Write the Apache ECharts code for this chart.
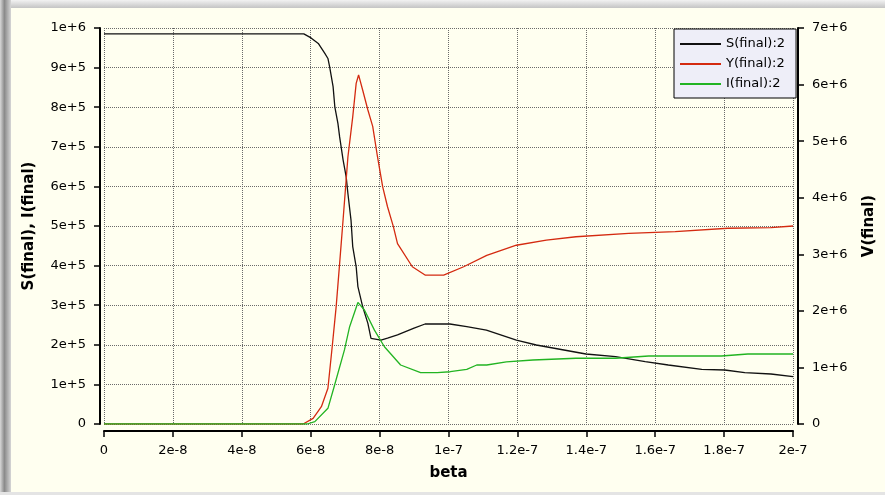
<!DOCTYPE html>
<html><head><meta charset="utf-8">
<script src="https://cdn.jsdelivr.net/npm/echarts@6/dist/echarts.min.js"></script>
<style>html,body{margin:0;padding:0;background:#fffff0}#c{width:885px;height:495px}</style>
</head><body><div id="c"></div><script>
// tick labels
const xTickLabels = ['0','2e-8','4e-8','6e-8','8e-8','1e-7','1.2e-7','1.4e-7','1.6e-7','1.8e-7','2e-7'];
const leftTickLabels = ['0','1e+5','2e+5','3e+5','4e+5','5e+5','6e+5','7e+5','8e+5','9e+5','1e+6'];
const rightTickLabels = ['0','1e+6','2e+6','3e+6','4e+6','5e+6','6e+6','7e+6'];
const legendNames = ['S(final):2','Y(final):2','I(final):2'];

// S(final)
const sBeta = [0,5.8e-8,6.01e-8,6.22e-8,6.41e-8,6.5e-8,6.55e-8,6.65e-8,6.7e-8,6.79e-8,6.84e-8,6.94e-8,7.03e-8,7.08e-8,7.17e-8,7.22e-8,7.32e-8,7.37e-8,7.51e-8,7.66e-8,7.75e-8,8.04e-8,8.23e-8,8.52e-8,9.0e-8,9.32e-8,1.004e-7,1.053e-7,1.11e-7,1.197e-7,1.255e-7,1.399e-7,1.485e-7,1.571e-7,1.638e-7,1.735e-7,1.802e-7,1.86e-7,1.936e-7,2.0e-7];
const sVal = [985000,985000,975000,961000,936000,923000,902000,852000,801000,759000,725000,667000,624000,582000,515000,448000,397000,347000,296000,254000,216000,212000,217000,225000,242000,252500,252500,245700,237000,212000,199500,176800,170000,157400,149000,138000,136400,129600,126300,119500];

// Y(final) (right axis)
const yBeta = [0,5.78e-8,6.07e-8,6.12e-8,6.31e-8,6.5e-8,6.63e-8,6.74e-8,6.84e-8,6.94e-8,7.08e-8,7.22e-8,7.32e-8,7.39e-8,7.51e-8,7.66e-8,7.8e-8,7.94e-8,8.09e-8,8.23e-8,8.4e-8,8.52e-8,8.95e-8,9.33e-8,9.86e-8,1.044e-7,1.111e-7,1.197e-7,1.284e-7,1.37e-7,1.523e-7,1.658e-7,1.811e-7,1.936e-7,2.0e-7];
const yVal = [0,0,100000,100000,306000,631000,1400000,2080000,2840000,3610000,4720000,5430000,6020000,6170000,5900000,5550000,5260000,4720000,4190000,3840000,3490000,3190000,2780000,2630000,2630000,2780000,2980000,3160000,3250000,3310000,3370000,3400000,3460000,3470000,3500000];

// I(final)
const iBeta = [0,5.9e-8,6.12e-8,6.5e-8,6.68e-8,6.98e-8,7.13e-8,7.37e-8,7.56e-8,7.85e-8,8.14e-8,8.61e-8,9.19e-8,9.67e-8,1.005e-7,1.053e-7,1.082e-7,1.111e-7,1.168e-7,1.245e-7,1.37e-7,1.485e-7,1.581e-7,1.792e-7,1.869e-7,2.0e-7];
const iVal = [0,0,6000,39600,94000,187000,245700,307000,288000,237000,195000,149000,129600,129600,132000,138000,149000,149000,157000,161600,166000,166000,171700,171700,176800,176800];

const pairs = (xs, ys) => xs.map((x, k) => [x, ys[k]]);
const FONT = 'DejaVu Sans';

const chart = echarts.init(document.getElementById('c'), null, {renderer: 'canvas'});
chart.setOption({
  animation: false,
  backgroundColor: '#fffff0',
  textStyle: {fontFamily: FONT},
  graphic: [
    {type: 'rect', left: 0, top: 0, shape: {width: 885, height: 8}, z: 100,
     style: {fill: new echarts.graphic.LinearGradient(0, 0, 0, 1, [{offset: 0, color: '#f2f2f2'}, {offset: 1, color: '#c4c4c4'}])}},
    {type: 'rect', left: 0, top: 0, shape: {width: 11, height: 495}, z: 100,
     style: {fill: new echarts.graphic.LinearGradient(0, 0, 1, 0, [{offset: 0, color: '#d8d8d8'}, {offset: 0.4, color: '#8a8a8a'}, {offset: 1, color: '#d6d6d6'}])}},
    {type: 'rect', left: 0, top: 492, shape: {width: 885, height: 3}, z: 100,
     style: {fill: '#e4e4e4'}}
  ],
  grid: {left: 104, right: 86, top: 28, bottom: 71},
  legend: {
    orient: 'vertical', left: 674, top: 29,
    data: legendNames,
    icon: 'rect', itemWidth: 41, itemHeight: 2, itemGap: 6,
    padding: [8, 11, 7, 6],
    backgroundColor: '#eeeef8', borderColor: '#000', borderWidth: 1,
    textStyle: {fontFamily: FONT, fontSize: 13, color: '#000', lineHeight: 14}
  },
  xAxis: {
    type: 'value', min: 0, max: 2e-7, interval: 2e-8, offset: 7,
    name: 'beta', nameLocation: 'middle', nameGap: 35,
    nameTextStyle: {fontFamily: FONT, fontWeight: 'bold', fontSize: 15, color: '#000'},
    axisLine: {onZero: false, lineStyle: {color: '#000', width: 2}},
    axisTick: {length: 6, lineStyle: {color: '#000', width: 1.5}},
    axisLabel: {margin: 13, color: '#000', fontFamily: FONT, fontSize: 13,
      formatter: v => xTickLabels[Math.round(v / 2e-8)]},
    splitLine: {show: true, lineStyle: {color: '#6a6a6a', type: 'dotted', width: 1}}
  },
  yAxis: [
    {
      type: 'value', min: 0, max: 1e6, interval: 1e5, offset: 4, position: 'left',
      name: 'S(final), I(final)', nameLocation: 'middle', nameGap: 63,
      nameTextStyle: {fontFamily: FONT, fontWeight: 'bold', fontSize: 15, color: '#000'},
      axisLine: {show: true, onZero: false, lineStyle: {color: '#000', width: 2}},
      axisTick: {show: true, length: 6, lineStyle: {color: '#000', width: 1.5}},
      axisLabel: {margin: 14, color: '#000', fontFamily: FONT, fontSize: 13,
        formatter: v => leftTickLabels[Math.round(v / 1e5)]},
      splitLine: {show: true, lineStyle: {color: '#6a6a6a', type: 'dotted', width: 1}}
    },
    {
      type: 'value', min: 0, max: 7e6, interval: 1e6, offset: 5, position: 'right',
      name: 'V(final)', nameLocation: 'middle', nameGap: 64,
      nameTextStyle: {fontFamily: FONT, fontWeight: 'bold', fontSize: 15, color: '#000'},
      axisLine: {show: true, onZero: false, lineStyle: {color: '#000', width: 2}},
      axisTick: {show: true, length: 6, lineStyle: {color: '#000', width: 1.5}},
      axisLabel: {margin: 14, color: '#000', fontFamily: FONT, fontSize: 13,
        formatter: v => rightTickLabels[Math.round(v / 1e6)]},
      splitLine: {show: false}
    }
  ],
  series: [
    {name: legendNames[0], type: 'line', data: pairs(sBeta, sVal), yAxisIndex: 0,
     showSymbol: false, color: '#111111', lineStyle: {width: 1.3, color: '#111111'}},
    {name: legendNames[1], type: 'line', data: pairs(yBeta, yVal), yAxisIndex: 1,
     showSymbol: false, color: '#d42a10', lineStyle: {width: 1.3, color: '#d42a10'}},
    {name: legendNames[2], type: 'line', data: pairs(iBeta, iVal), yAxisIndex: 0,
     showSymbol: false, color: '#22b422', lineStyle: {width: 1.3, color: '#22b422'}}
  ]
});
</script></body></html>
